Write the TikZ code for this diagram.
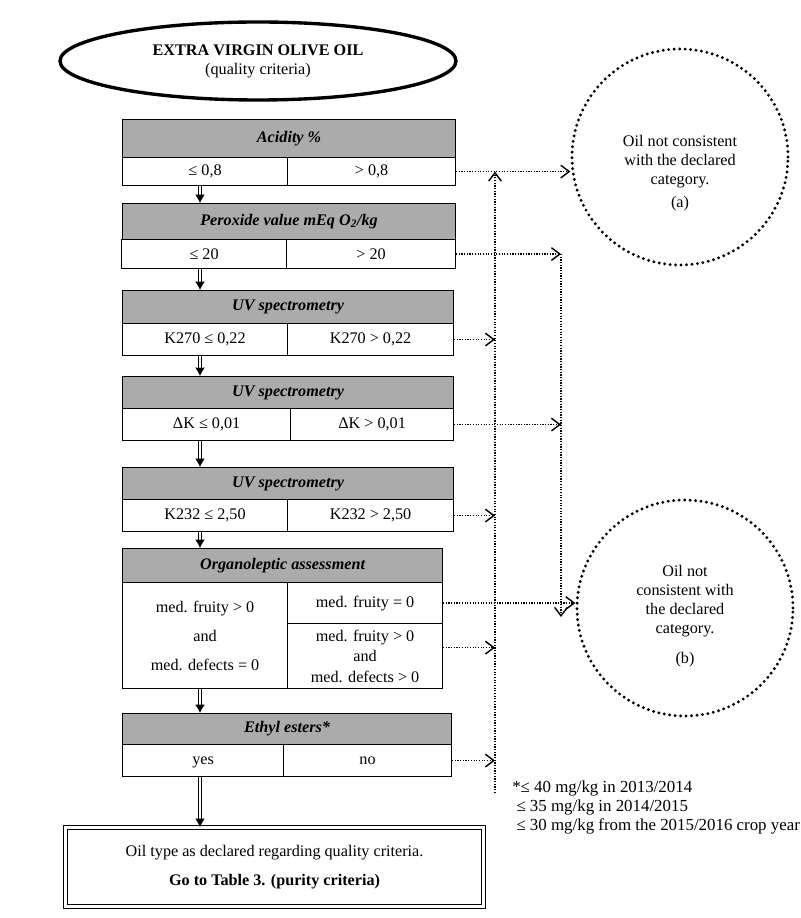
\documentclass[tikz,border=0pt]{standalone}
\usepackage{amsmath}
\usepackage{amssymb}
\usepackage{fontspec}
\setmainfont{Liberation Serif}
\usepackage{tikz}
\usetikzlibrary{arrows.meta,shapes.geometric}

\definecolor{hdrgray}{RGB}{171,171,171}
\newlength\px
\setlength\px{0.025cm}
\newcommand\tabfont{\fontsize{11.5}{13.6}\selectfont}

\tikzset{
  hdr/.style={draw, line width=0.8pt, fill=hdrgray, anchor=north west, inner sep=0pt, font=\tabfont\bfseries\itshape},
  cell/.style={draw, line width=0.8pt, fill=white, anchor=north west, inner sep=0pt, align=center, font=\tabfont},
  dblarr/.style={double, double distance=1.5pt, line width=0.7pt, -{Latex[length=6pt,width=7pt]}},
  dotarr/.style={line width=0.9pt, densely dotted, -{Straight Barb[length=6pt,width=9pt,line width=1pt]}},
  outcome/.style={circle, draw, line width=2.3pt, dash pattern=on 0pt off 3.9pt, line cap=round, minimum size=216\px, align=center, inner sep=0pt, font=\tabfont},
}

\begin{document}
\begin{tikzpicture}[x=0.025cm, y=-0.025cm]
    \useasboundingbox (0,0) rectangle (800,918);

    % Titulo
    \node[ellipse, draw, line width=2.4pt, minimum width=396\px, minimum height=78\px, align=center, font=\tabfont] (title) at (258,61)
        {\textbf{EXTRA VIRGIN OLIVE OIL}\\(quality criteria)};

    % Acidez
    \node[hdr, minimum width=333\px, minimum height=38\px] (acid) at (122,119) {Acidity \%};
    \node[cell, minimum width=165\px, minimum height=28\px] (acidL) at (122,157) {≤ 0,8};
    \node[cell, minimum width=168\px, minimum height=28\px] (acidR) at (287,157) {> 0,8};

    % Peroxidos
    \node[hdr, minimum width=333\px, minimum height=36\px] (perox) at (122,203) {Peroxide value mEq O\textsubscript{2}/kg};
    \node[cell, minimum width=165\px, minimum height=29\px] (peroxL) at (121,239) {≤ 20};
    \node[cell, minimum width=169\px, minimum height=29\px] (peroxR) at (286,239) {> 20};

    % UV (K270)
    \node[hdr, minimum width=331\px, minimum height=33\px] (uvA) at (122,290) {UV spectrometry};
    \node[cell, minimum width=165\px, minimum height=32\px] (uvAL) at (122,323) {K270 ≤ 0,22};
    \node[cell, minimum width=166\px, minimum height=32\px] (uvAR) at (287,323) {K270 > 0,22};

    % UV (Delta K)
    \node[hdr, minimum width=331\px, minimum height=32\px] (uvB) at (122,376) {UV spectrometry};
    \node[cell, minimum width=168\px, minimum height=32\px] (uvBL) at (122,408) {ΔK ≤ 0,01};
    \node[cell, minimum width=163\px, minimum height=32\px] (uvBR) at (290,408) {ΔK > 0,01};

    % UV (K232)
    \node[hdr, minimum width=331\px, minimum height=32\px] (uvC) at (122,467) {UV spectrometry};
    \node[cell, minimum width=165\px, minimum height=32\px] (uvCL) at (122,499) {K232 ≤ 2,50};
    \node[cell, minimum width=166\px, minimum height=32\px] (uvCR) at (287,499) {K232 > 2,50};

    % Organoleptico
    \node[hdr, minimum width=320\px, minimum height=34\px] (organo) at (122,548) {Organoleptic assessment};
    \node[cell, minimum width=165\px, minimum height=106\px] (organoL) at (122,582)
        {med. fruity > 0\\[7pt]and\\[7pt]med. defects = 0};
    \node[cell, minimum width=155\px, minimum height=41\px] (organoRa) at (287,582) {med. fruity = 0};
    \node[cell, minimum width=155\px, minimum height=65\px] (organoRb) at (287,623)
        {med. fruity > 0\\[1pt]and\\[1pt]med. defects > 0};

    % Esteres etilicos
    \node[hdr, minimum width=329\px, minimum height=31\px] (ethyl) at (122,713) {Ethyl esters*};
    \node[cell, minimum width=161\px, minimum height=32\px] (ethylL) at (122,744) {\strut yes};
    \node[cell, minimum width=168\px, minimum height=32\px] (ethylR) at (283,744) {\strut no};

    % Resultado final
    \node[draw, double, double distance=1.6pt, line width=0.8pt, minimum width=418\px, minimum height=79\px,
          anchor=north west, align=center, font=\tabfont] (final) at (65,827)
        {Oil type as declared regarding quality criteria.\\[7pt]\textbf{Go to Table 3. (purity criteria)}};

    % Circulos
    \node[outcome] (circA) at (680,157) {\rule{0pt}{31pt}Oil not consistent\\with the declared\\category.\\[3pt](a)};
    \node[outcome] (circB) at (685,608) {\rule{0pt}{19.5pt}Oil not\\consistent with\\the declared\\category.\\[8pt](b)};

    % Nota
    \node[anchor=north west, align=left, inner sep=0pt, font=\fontsize{12}{13.4}\selectfont] (note) at (512,781)
        {*≤ 40 mg/kg in 2013/2014\\ \ ≤ 35 mg/kg in 2014/2015\\ \ ≤ 30 mg/kg from the 2015/2016 crop year};

    % Flechas dobles
    \coordinate (xarr) at (200,0);
    \draw[dblarr] (acidL.south -| xarr) -- (perox.north -| xarr);
    \draw[dblarr] (peroxL.south -| xarr) -- (uvA.north -| xarr);
    \draw[dblarr] (uvAL.south -| xarr) -- (uvB.north -| xarr);
    \draw[dblarr] (uvBL.south -| xarr) -- (uvC.north -| xarr);
    \draw[dblarr] (uvCL.south -| xarr) -- (organo.north -| xarr);
    \draw[dblarr] (organoL.south -| xarr) -- (ethyl.north -| xarr);
    \draw[dblarr] (ethylL.south -| xarr) -- (final.north -| xarr);

    % Hacia (a)
    \coordinate (busA) at (495,793);
    \draw[dotarr] (acidR.east) -- (acidR.east -| circA.west);
    \draw[dotarr] (busA) -- (busA |- acidR.east);
    \draw[dotarr] (uvAR.east) -- (uvAR.east -| busA);
    \draw[dotarr] (uvCR.east) -- (uvCR.east -| busA);
    \draw[dotarr] ([yshift=6pt]organoRb.east) -- ([yshift=6pt]organoRb.east -| busA);
    \draw[dotarr] (ethylR.east) -- (ethylR.east -| busA);

    % Hacia (b)
    \coordinate (busB) at (561,617);
    \draw[dotarr] (peroxR.east) -- (peroxR.east -| busB);
    \draw[dotarr] (busB |- peroxR.east) -- (busB);
    \draw[dotarr] (uvBR.east) -- (uvBR.east -| busB);
    \draw[dotarr] (organoRa.east) -- (organoRa.east -| circB.west);
\end{tikzpicture}
\end{document}
